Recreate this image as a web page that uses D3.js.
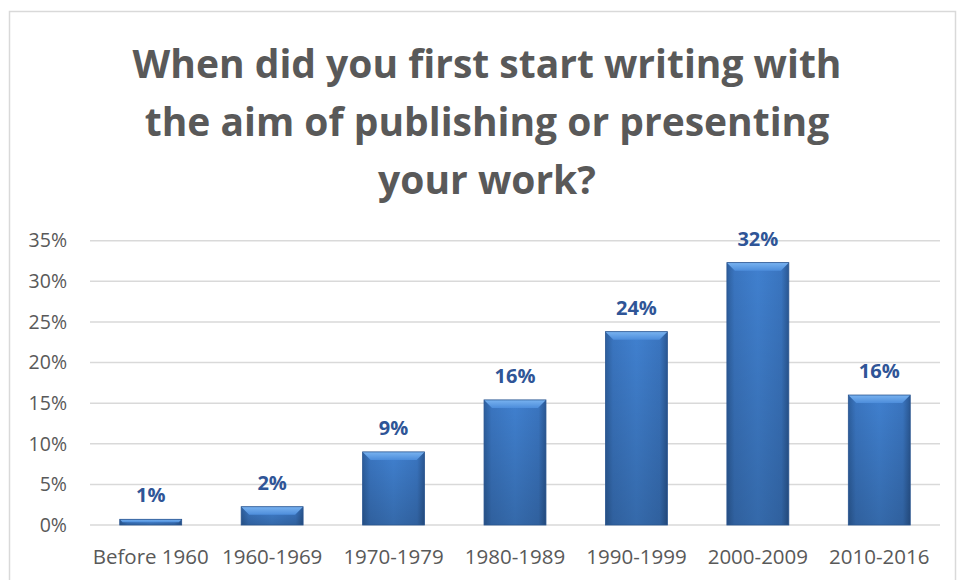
<!DOCTYPE html>
<html><head><meta charset="utf-8">
<script src="https://cdn.jsdelivr.net/npm/d3@7"></script>
<style>body{margin:0;background:#fff}svg{display:block}</style>
</head><body>
<svg id="c" width="957" height="580"></svg>
<script>
const categories = ["Before 1960","1960-1969","1970-1979","1980-1989","1990-1999","2000-2009","2010-2016"];
const values = [0.007, 0.0225, 0.09, 0.154, 0.238, 0.323, 0.16];
const valueLabels = ["1%","2%","9%","16%","24%","32%","16%"];
const yTicks = [0,0.05,0.10,0.15,0.20,0.25,0.30,0.35];
const titleLines = ["When did you first start writing with","the aim of publishing or presenting","your work?"];

const svg = d3.select("#c");
const FONT = "'Open Sans', sans-serif";
const defs = svg.append("defs");
const g1 = defs.append("linearGradient").attr("id","barG").attr("x1","0").attr("x2","1").attr("y1","0").attr("y2","0");
g1.append("stop").attr("offset","0").attr("stop-color","#2d5f9e");
g1.append("stop").attr("offset","0.12").attr("stop-color","#3a75c0");
g1.append("stop").attr("offset","0.5").attr("stop-color","#4080cf");
g1.append("stop").attr("offset","0.88").attr("stop-color","#3a75c0");
g1.append("stop").attr("offset","1").attr("stop-color","#2a5894");
const g2 = defs.append("linearGradient").attr("id","vG").attr("x1","0").attr("x2","0").attr("y1","0").attr("y2","1");
g2.append("stop").attr("offset","0").attr("stop-color","#000").attr("stop-opacity","0");
g2.append("stop").attr("offset","1").attr("stop-color","#000").attr("stop-opacity","0.18");
const g3 = defs.append("linearGradient").attr("id","topG").attr("x1","0").attr("x2","0").attr("y1","0").attr("y2","1");
g3.append("stop").attr("offset","0").attr("stop-color","#79b3f0");
g3.append("stop").attr("offset","1").attr("stop-color","#4d8ddb");

// frame
svg.append("rect").attr("x",9.5).attr("y",11.5).attr("width",946).attr("height",600)
  .attr("fill","none").attr("stroke","#d9d9d9").attr("stroke-width",1.5);

// title
const t = svg.append("text").attr("text-anchor","middle").attr("font-family",FONT)
  .attr("font-weight","bold").attr("font-size",39).attr("fill","#595959");
titleLines.forEach((l,i)=>t.append("tspan").attr("x",487).attr("y",78+i*58).text(l));

const x = d3.scaleBand().domain(categories).range([90,940]).paddingInner(0.49).paddingOuter(0.245);
const y = d3.scaleLinear().domain([0,0.35]).range([525,240.7]);

// gridlines
svg.append("g").selectAll("line").data(yTicks).join("line")
  .attr("x1",90).attr("x2",940).attr("y1",d=>y(d)).attr("y2",d=>y(d))
  .attr("stroke","#d9d9d9").attr("stroke-width",1.5);

// y axis labels
const yAxis = d3.axisLeft(y).tickValues(yTicks).tickFormat(d3.format(".0%")).tickSize(0).tickPadding(0);
const ya = svg.append("g").attr("transform","translate(67,0)").call(yAxis);
ya.select(".domain").remove();
ya.selectAll("text").attr("font-family",FONT).attr("font-size",19.5).attr("fill","#595959");

// x axis labels
const xAxis = d3.axisBottom(x).tickSize(0).tickPadding(0);
const xa = svg.append("g").attr("transform","translate(0,549)").call(xAxis);
xa.select(".domain").remove();
xa.selectAll("text").attr("font-family",FONT).attr("font-size",20.5).attr("fill","#595959");

// bars
const bars = svg.append("g").selectAll("g").data(categories).join("g");
bars.append("rect").attr("x",d=>x(d)).attr("y",(d,i)=>y(values[i])).attr("width",x.bandwidth())
  .attr("height",(d,i)=>y(0)-y(values[i])).attr("fill","url(#barG)");
bars.append("rect").attr("x",d=>x(d)).attr("y",(d,i)=>y(values[i])).attr("width",x.bandwidth())
  .attr("height",(d,i)=>y(0)-y(values[i])).attr("fill","url(#vG)");
bars.append("path").attr("d",(d,i)=>{
  const x0=x(d), x1=x0+x.bandwidth(), y0=y(values[i]), h=y(0)-y0;
  const b=Math.min(8,h/2);
  return `M${x0},${y0}L${x1},${y0}L${x1-b},${y0+b}L${x0+b},${y0+b}Z`;
}).attr("fill","url(#topG)");
bars.append("rect").attr("x",d=>x(d)).attr("y",(d,i)=>y(values[i])).attr("width",x.bandwidth())
  .attr("height",(d,i)=>y(0)-y(values[i])).attr("fill","none").attr("stroke","#2a5590").attr("stroke-width",0.8);

// value labels
svg.append("g").selectAll("text").data(categories).join("text")
  .attr("x",d=>x(d)+x.bandwidth()/2).attr("y",(d,i)=>y(values[i])-17)
  .attr("text-anchor","middle").attr("font-family",FONT).attr("font-weight","bold")
  .attr("font-size",20).attr("fill","#2f5597").text((d,i)=>valueLabels[i]);
</script>
</body></html>
